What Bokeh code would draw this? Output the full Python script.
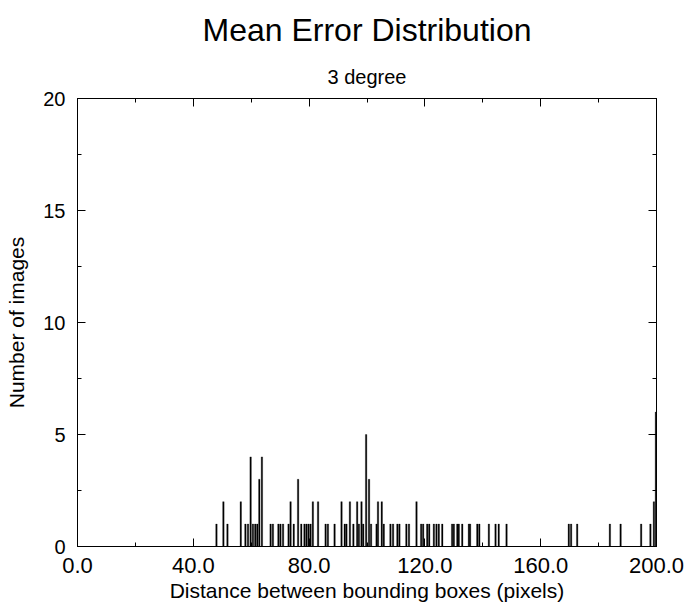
from bokeh.plotting import figure
from bokeh.models import (LinearAxis, FixedTicker, PrintfTickFormatter, Title, ColumnDataSource, Range1d)
from bokeh.embed import file_html
from bokeh.resources import INLINE

# Mean error (pixels) bin positions and counts
distance = [48.0, 50.4, 51.8, 56.4, 58.0, 58.9, 59.8, 60.6, 61.4, 62.1, 62.8, 63.7,
            66.7, 67.5, 69.4, 70.1, 71.0, 72.9, 73.6, 74.7, 76.2, 77.3, 78.4, 79.1,
            79.8, 80.5, 81.3, 83.1, 85.7, 86.5, 88.8, 91.2, 92.3, 92.9, 94.1, 95.3,
            96.6, 97.2, 98.1, 98.7, 99.7, 100.7, 101.4, 103.3, 103.8, 105.1, 105.8,
            108.1, 109.0, 110.5, 111.2, 113.6, 114.5, 117.1, 118.7, 119.4, 120.8,
            121.5, 123.1, 124.0, 124.8, 126.0, 129.4, 130.0, 131.2, 131.7, 132.9,
            135.2, 135.6, 138.1, 138.8, 142.1, 144.4, 145.5, 148.2, 169.7, 170.5,
            172.6, 183.9, 187.6, 194.7, 197.9, 199.1, 199.8]
count = [1, 2, 1, 2, 1, 1, 4, 1, 1, 1, 3, 4,
         1, 1, 1, 1, 1, 1, 2, 1, 3, 1, 1, 1,
         1, 1, 2, 2, 1, 1, 1, 2, 1, 1, 2, 1,
         2, 1, 2, 1, 5, 3, 1, 1, 2, 2, 1,
         1, 1, 1, 1, 1, 1, 2, 1, 1, 1,
         1, 1, 1, 1, 1, 1, 1, 1, 1, 1,
         1, 1, 1, 1, 1, 1, 1, 1, 1, 1,
         1, 1, 1, 1, 1, 2, 6]

x_major = [0, 40, 80, 120, 160, 200]
x_minor = [20, 60, 100, 140, 180]
y_major = [0, 5, 10, 15, 20]
y_minor = [2.5, 7.5, 12.5, 17.5]

FONT = "Liberation Sans"

src = ColumnDataSource(dict(x=distance, top=count))

p = figure(frame_width=579, frame_height=448,
           x_range=Range1d(0, 200), y_range=Range1d(0, 20),
           output_backend="svg", toolbar_location=None,
           x_axis_location=None, y_axis_location=None,
           min_border_left=77, min_border_right=28, min_border_top=98, min_border_bottom=58)
p.xgrid.visible = False
p.ygrid.visible = False
p.outline_line_color = "black"
p.outline_line_width = 1
p.background_fill_color = "white"
p.border_fill_color = "white"

p.vbar(x="x", top="top", bottom=0, width=0.5, source=src,
       fill_color="black", line_color="black", line_width=0.3)


def style(ax, show_labels):
    ax.major_tick_in = 8
    ax.major_tick_out = 0
    ax.minor_tick_in = 4
    ax.minor_tick_out = 0
    ax.axis_line_color = "black"
    ax.major_tick_line_color = "black"
    ax.minor_tick_line_color = "black"
    ax.major_label_text_font = FONT
    ax.major_label_text_color = "black"
    ax.axis_label_text_font = FONT
    ax.axis_label_text_font_style = "normal"
    ax.axis_label_text_color = "black"
    if not show_labels:
        ax.major_label_text_font_size = "1px"
        ax.major_label_text_color = None
        ax.major_label_standoff = 0


xt = FixedTicker(ticks=x_major, minor_ticks=x_minor)
yt = FixedTicker(ticks=y_major, minor_ticks=y_minor)

xb = LinearAxis(ticker=xt, formatter=PrintfTickFormatter(format="%.1f"),
                axis_label="Distance between bounding boxes (pixels)")
style(xb, True)
xb.major_label_text_font_size = "22px"
xb.major_label_standoff = 11
xb.axis_label_text_font_size = "21px"
xb.axis_label_standoff = 3
p.add_layout(xb, "below")

yl = LinearAxis(ticker=yt, axis_label="Number of images")
style(yl, True)
yl.major_label_text_font_size = "20px"
yl.major_label_standoff = 12
yl.axis_label_text_font_size = "21px"
yl.axis_label_standoff = 12
p.add_layout(yl, "left")

xa = LinearAxis(ticker=xt)
style(xa, False)
p.add_layout(xa, "above")

yr = LinearAxis(ticker=yt)
style(yr, False)
p.add_layout(yr, "right")

sub = Title(text="3 degree", align="center", text_font=FONT, text_font_size="20px",
            text_font_style="normal", text_color="black", standoff=21)
p.add_layout(sub, "above")
main = Title(text="Mean Error Distribution", align="center", text_font=FONT,
             text_font_size="32px", text_font_style="normal", text_color="black", standoff=12)
p.add_layout(main, "above")

open("out.html", "w").write(file_html(p, INLINE))
